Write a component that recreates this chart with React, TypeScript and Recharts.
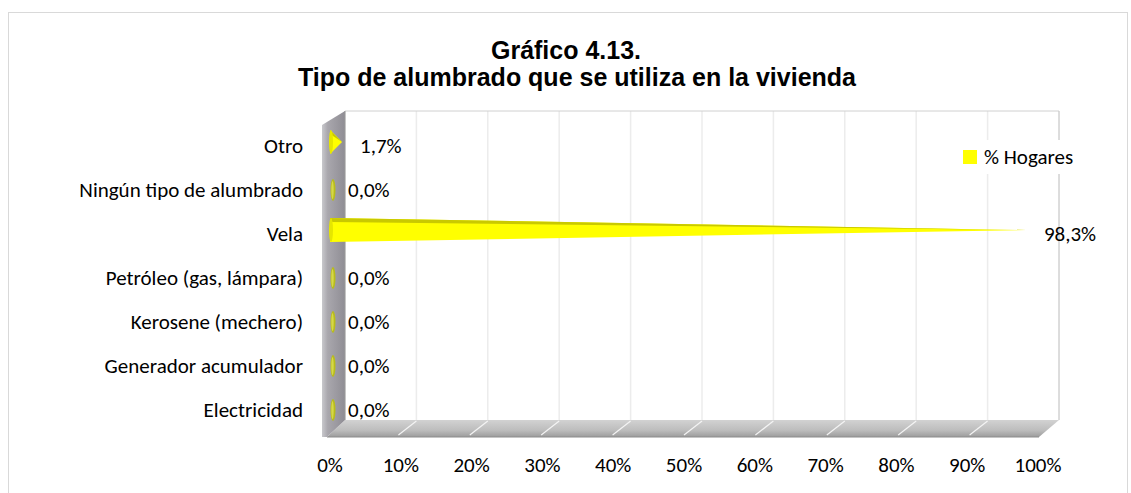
import { BarChart, Bar, XAxis, YAxis, LabelList } from "recharts"

// datos del gráfico 4.13
const categorias = [
  "Otro",
  "Ningún tipo de alumbrado",
  "Vela",
  "Petróleo (gas, lámpara)",
  "Kerosene (mechero)",
  "Generador acumulador",
  "Electricidad",
]
const hogares = [1.7, 0.0, 98.3, 0.0, 0.0, 0.0, 0.0]
const ticksX = [0, 10, 20, 30, 40, 50, 60, 70, 80, 90, 100]
const serie = "% Hogares"

const data = categorias.map((name, i) => ({ name, value: hogares[i] }))

const W = 1131
const H = 493
const PLOT_TOP = 124
const PLOT_BOTTOM = 432
const PLOT_LEFT = 330
const PLOT_RIGHT = 1038
const LABEL_FONT = "Calibri, Carlito, Lato, sans-serif"

// paredes 3D (decoración)
const BACK_L = 345
const BACK_R = 1059
const BACK_T = 111
const FLOOR_T = 420
const FLOOR_F = 431
const FLOOR_B = 437
const DEPTH = 18

const fmt = (v: number) => v.toFixed(1).replace(".", ",") + "%"

function Cone(props: any) {
  const { x, y, width, height } = props
  const cy = y + height / 2 - 4
  if (!width || width < 1) {
    return (
      <g>
        <ellipse cx={x + 3} cy={cy + 4} rx={2.5} ry={11} fill="#b8bc1c" />
        <ellipse cx={x + 2.5} cy={cy + 4} rx={1.2} ry={9} fill="#d6d84a" />
      </g>
    )
  }
  const h = 12
  return (
    <g>
      <polygon points={`${x},${cy - h} ${x + width},${cy} ${x},${cy + h}`} fill="#ffff00" />
      <polygon points={`${x},${cy - h} ${x + width},${cy} ${x},${cy - h + 4}`} fill="#c9c900" />
      <ellipse cx={x + 1} cy={cy} rx={2} ry={h} fill="#e6e600" />
    </g>
  )
}

function Walls() {
  const back = (v: number) => BACK_L + ((BACK_R - BACK_L) * v) / 100
  return (
    <svg width={W} height={H} style={{ position: "absolute", left: 0, top: 0 }}>
      <defs>
        <linearGradient id="wall" x1="0" y1="0" x2="1" y2="0">
          <stop offset="0" stopColor="#c8c8cc" />
          <stop offset="0.25" stopColor="#a9a7ad" />
          <stop offset="1" stopColor="#8f8d94" />
        </linearGradient>
        <linearGradient id="floor" x1="0" y1="0" x2="0" y2="1">
          <stop offset="0" stopColor="#d2d2d2" />
          <stop offset="0.6" stopColor="#bdbdbd" />
          <stop offset="1" stopColor="#9c9c9c" />
        </linearGradient>
      </defs>
      <rect x={8.5} y={12.5} width={1119} height={490} fill="#fff" stroke="#d9d9d9" />
      {/* pared del fondo */}
      {ticksX.map((v) => (
        <line key={v} x1={back(v)} x2={back(v)} y1={BACK_T} y2={FLOOR_T} stroke="#ececec" strokeWidth={1.5} />
      ))}
      <line x1={BACK_L} x2={BACK_R} y1={BACK_T} y2={BACK_T} stroke="#d0d0d0" />
      <line x1={BACK_R} x2={BACK_R} y1={BACK_T} y2={FLOOR_T} stroke="#c8c8c8" />
      {/* piso */}
      <polygon
        points={`${BACK_L},${FLOOR_T} ${BACK_R},${FLOOR_T} ${BACK_R - DEPTH - 2},${FLOOR_B} ${BACK_L - DEPTH},${FLOOR_B}`}
        fill="url(#floor)"
      />
      <line x1={BACK_L - DEPTH} x2={BACK_R - DEPTH - 2} y1={FLOOR_B} y2={FLOOR_B} stroke="#8c8c8c" />
      {ticksX.slice(1, -1).map((v) => (
        <line
          key={v}
          x1={back(v)}
          y1={FLOOR_T + 1}
          x2={back(v) - DEPTH}
          y2={FLOOR_F + 4}
          stroke="#f4f4f4"
          strokeWidth={1.2}
        />
      ))}
      {/* pared izquierda */}
      <polygon
        points={`${BACK_L - DEPTH - 5},${BACK_T + 14} ${BACK_L},${BACK_T} ${BACK_L},${FLOOR_T} ${BACK_L - DEPTH},${FLOOR_B} ${BACK_L - DEPTH - 5},${FLOOR_B}`}
        fill="url(#wall)"
      />
      <line x1={BACK_L} x2={BACK_L} y1={BACK_T} y2={FLOOR_T} stroke="#9a9a9a" />
      {/* título */}
      <text
        x={566}
        y={59}
        textAnchor="middle"
        fontFamily="Arial, 'Liberation Sans', sans-serif"
        fontWeight="bold"
        fontSize={25}
        fill="#000"
      >
        Gráfico 4.13.
      </text>
      <text
        x={577}
        y={86}
        textAnchor="middle"
        fontFamily="Arial, 'Liberation Sans', sans-serif"
        fontWeight="bold"
        fontSize={25}
        fill="#000"
      >
        Tipo de alumbrado que se utiliza en la vivienda
      </text>
    </svg>
  )
}

function LegendBox() {
  return (
    <div
      style={{
        position: "absolute",
        left: 955,
        top: 140,
        background: "#fff",
        padding: "4px 8px",
        display: "flex",
        alignItems: "center",
        fontFamily: LABEL_FONT,
        fontSize: 21,
        lineHeight: "26px",
        color: "#000",
      }}
    >
      <span style={{ display: "inline-block", width: 14, height: 14, background: "#ffff00", marginRight: 7 }} />
      {serie}
    </div>
  )
}

export default function App() {
  return (
    <div style={{ position: "absolute", left: 0, top: 0, width: W, height: H, background: "#fff" }}>
      <Walls />
      <div style={{ position: "absolute", left: 0, top: 0 }}>
        <BarChart
          layout="vertical"
          width={W}
          height={H}
          data={data}
          margin={{ top: PLOT_TOP, right: W - PLOT_RIGHT, bottom: 0, left: 0 }}
          barCategoryGap="8%"
        >
          <XAxis
            type="number"
            domain={[0, 100]}
            ticks={ticksX}
            tickFormatter={(v) => `${v}%`}
            axisLine={false}
            tickLine={false}
            tickSize={0}
            tickMargin={25}
            height={H - PLOT_BOTTOM}
            interval={0}
            tick={{ fontFamily: LABEL_FONT, fontSize: 21, fill: "#000" }}
          />
          <YAxis
            type="category"
            dataKey="name"
            width={PLOT_LEFT}
            axisLine={false}
            tickLine={false}
            tickSize={0}
            tickMargin={27}
            interval={0}
            tick={{ fontFamily: LABEL_FONT, fontSize: 21, fill: "#000" }}
          />
          <Bar dataKey="value" name={serie} fill="#ffff00" shape={<Cone />} isAnimationActive={false}>
            <LabelList
              dataKey="value"
              position="right"
              offset={18}
              formatter={(v: any) => fmt(Number(v))}
              style={{ fontFamily: LABEL_FONT, fontSize: 21, fill: "#000" }}
            />
          </Bar>
        </BarChart>
      </div>
      <LegendBox />
    </div>
  )
}
